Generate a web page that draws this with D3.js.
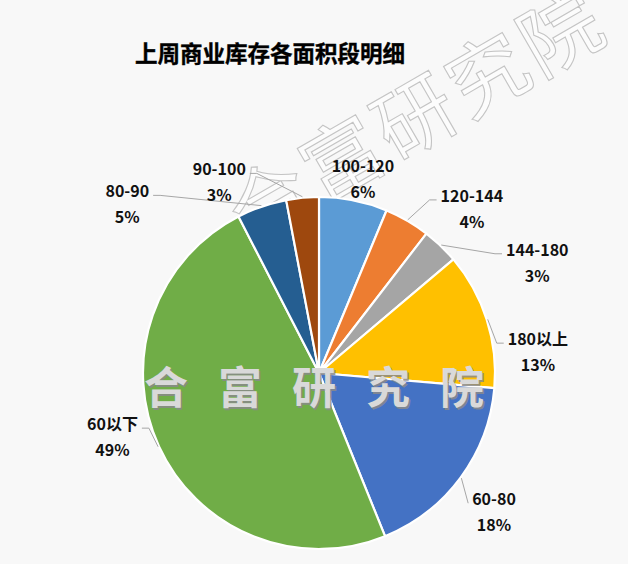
<!DOCTYPE html>
<html><head><meta charset="utf-8">
<script src="https://cdn.jsdelivr.net/npm/d3@7/dist/d3.min.js"></script>
<style>
html,body{margin:0;padding:0;background:#f8f8f8;}
svg{display:block;}
</style></head>
<body>
<script>
// ---- data ----
const categories = ["100-120","120-144","144-180","180以上","60-80","60以下","80-90","90-100"];
const values = [6.3, 4.2, 3.4, 12.6, 17.6, 48.8, 4.6, 3.0];
const colors = ["#5B9BD5","#ED7D31","#A5A5A5","#FFC000","#4472C4","#70AD47","#255E91","#9E480E"];
const title = "上周商业库存各面积段明细";
const watermarkChars = ["合","富","研","究","院"];

// ---- layout (not data) ----
const W = 628, H = 564;
const cx = 319, cy = 373, R = 176;
// label block placement: [angle in degrees clockwise from top, radius from centre, leader?]
const labelSpots = [[12.7,200,false],[42.8,225,true],[63,245,true],[84.3,220,true],
                    [128.3,223,true],[253,216,true],[311.5,256,true],[332.5,216,true]];

const svg = d3.select("body").append("svg").attr("width", W).attr("height", H);
svg.append("rect").attr("width", W).attr("height", H).attr("fill", "#f8f8f8");

// outlined diagonal watermark (behind)
const wm1 = svg.append("g").attr("transform", "translate(412,112) rotate(-30)");
watermarkChars.forEach((c, i) => {
  wm1.append("text").attr("x", (i - 2) * 84).attr("y", 0)
    .attr("text-anchor", "middle").attr("dominant-baseline", "central")
    .attr("font-family", "'Noto Sans CJK SC', sans-serif").attr("font-size", 80)
    .attr("fill", "#fcfcfc").attr("stroke", "#c4c4c4").attr("stroke-width", 1.1)
    .text(c);
});

// title
svg.append("text").attr("x", 270).attr("y", 52)
  .attr("text-anchor", "middle").attr("dominant-baseline", "central")
  .attr("font-family", "'Noto Sans CJK SC', sans-serif").attr("font-weight", "bold")
  .attr("font-size", 22.5).attr("fill", "#000").attr("stroke", "#000").attr("stroke-width", 0.4)
  .text(title);

const total = d3.sum(values);
const pie = d3.pie().sort(null).value(d => d)(values);
const arc = d3.arc().innerRadius(0).outerRadius(R);

const g = svg.append("g").attr("transform", `translate(${cx},${cy})`);
g.selectAll("path.slice").data(pie).join("path").attr("class", "slice")
  .attr("d", arc).attr("fill", (d, i) => colors[i])
  .attr("stroke", "#fff").attr("stroke-width", 2.2).attr("stroke-linejoin", "round");

// labels
const labelG = g.append("g");
pie.forEach((d, i) => {
  const [ang, rad, leader] = labelSpots[i];
  const [lx, ly] = d3.pointRadial(ang * Math.PI / 180, rad);
  const t = labelG.append("g");
  const name = t.append("text").attr("x", lx).attr("y", ly - 13)
    .attr("text-anchor", "middle").attr("dominant-baseline", "central")
    .attr("font-family", "'Noto Sans CJK SC', sans-serif").attr("font-weight", "bold")
    .attr("font-size", 16).attr("fill", "#111").text(categories[i]);
  const pct = Math.round(values[i] / total * 100) + "%";
  t.append("text").attr("x", lx).attr("y", ly + 13)
    .attr("text-anchor", "middle").attr("dominant-baseline", "central")
    .attr("font-family", "'Noto Sans CJK SC', sans-serif").attr("font-weight", "bold")
    .attr("font-size", 16).attr("fill", "#111").text(pct);
  if (leader) {
    const mid = (d.startAngle + d.endAngle) / 2;
    const S = d3.pointRadial(mid, R + 1);
    const bb = name.node().getBBox();
    const right = lx > S[0];
    const E = [right ? bb.x - 4 : bb.x + bb.width + 4, ly - 8];
    const dx = Math.abs(E[0] - S[0]), dy = Math.abs(E[1] - S[1]);
    let pts;
    if (dy > 2 * dx) pts = [S, E];
    else pts = [S, [right ? E[0] - 7 : E[0] + 7, E[1]], E];
    labelG.insert("path", ":first-child").attr("d", d3.line()(pts))
      .attr("fill", "none").attr("stroke", "#a6a6a6").attr("stroke-width", 1);
  }
});

// embossed horizontal watermark (on top)
const wm2 = svg.append("g");
watermarkChars.forEach((c, i) => {
  const x = 166 + i * 74;
  wm2.append("text").attr("x", x + 1.5).attr("y", 385 + 1.5)
    .attr("text-anchor", "middle").attr("dominant-baseline", "central")
    .attr("font-family", "'Noto Sans CJK SC', sans-serif").attr("font-weight", "bold")
    .attr("font-size", 44).attr("fill", "#8a8a8a").attr("fill-opacity", 0.85).text(c);
  wm2.append("text").attr("x", x).attr("y", 385)
    .attr("text-anchor", "middle").attr("dominant-baseline", "central")
    .attr("font-family", "'Noto Sans CJK SC', sans-serif").attr("font-weight", "bold")
    .attr("font-size", 44).attr("fill", "#d9d9d9").text(c);
});
</script>
</body></html>
